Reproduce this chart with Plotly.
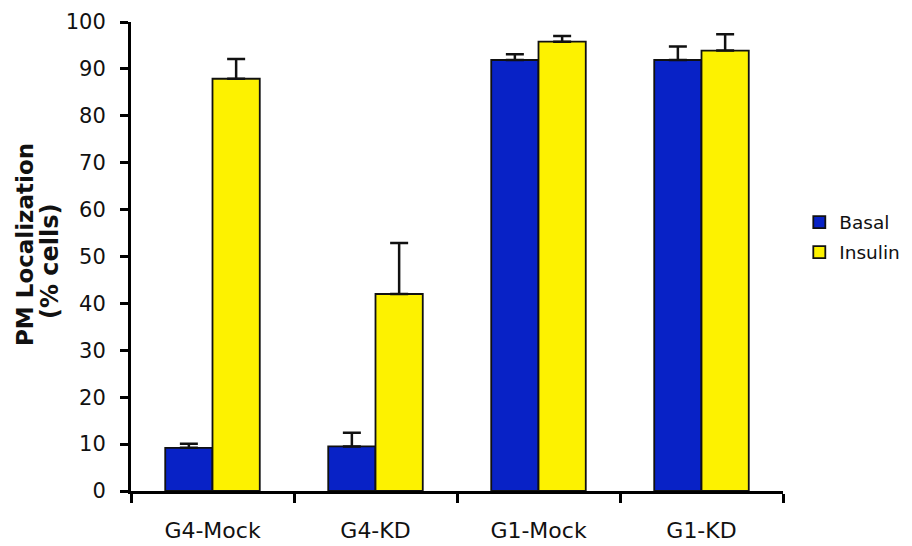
import plotly.graph_objects as go

categories = ["G4-Mock", "G4-KD", "G1-Mock", "G1-KD"]
basal = [9.2, 9.5, 91.9, 91.9]
basal_err = [0.9, 2.9, 1.2, 2.9]
insulin = [87.9, 42.0, 95.8, 93.9]
insulin_err = [4.2, 10.9, 1.2, 3.5]
series_names = ["Basal", "Insulin"]
y_ticks = [0, 10, 20, 30, 40, 50, 60, 70, 80, 90, 100]

BLUE = "#0822C6"
YELLOW = "#FDF200"
FONT = "DejaVu Sans"

fig = go.Figure()
for name, vals, errs, col, grp in [
    (series_names[0], basal, basal_err, BLUE, "a"),
    (series_names[1], insulin, insulin_err, YELLOW, "b"),
]:
    fig.add_trace(go.Bar(
        x=categories, y=vals, name=name, legendgroup=grp,
        marker=dict(color=col, line=dict(color="#111111", width=1.8)),
        error_y=dict(type="data", array=errs, arrayminus=[0] * len(errs),
                     symmetric=False, color="#111111", thickness=2.5, width=9),
    ))

fig.update_layout(
    width=912, height=546,
    margin=dict(l=131, r=129, t=22, b=55, autoexpand=False),
    paper_bgcolor="white", plot_bgcolor="white",
    barmode="group", bargap=0.42, bargroupgap=0,
    font=dict(family=FONT, color="#111111"),
    showlegend=True,
    legend=dict(x=1.025, y=0.5405, xanchor="left", yanchor="middle",
                font=dict(size=18.5, family=FONT, color="#111111"),
                tracegroupgap=3, bgcolor="rgba(0,0,0,0)"),
    xaxis=dict(
        type="category", showline=True, linecolor="black", linewidth=3,
        ticks="outside", tickson="boundaries", ticklen=9, tickwidth=3, tickcolor="black",
        tickfont=dict(size=22, family=FONT, color="#111111"),
        ticklabelstandoff=18, automargin=False,
        showgrid=False, zeroline=False,
    ),
    yaxis=dict(
        range=[0, 100], tickvals=y_ticks, showline=True, linecolor="black", linewidth=3,
        ticks="outside", ticklen=8, tickwidth=3, tickcolor="black",
        tickfont=dict(size=21, family=FONT, color="#111111"),
        ticklabelstandoff=10, automargin=False,
        showgrid=False, zeroline=False,
    ),
)

fig.add_annotation(text="<b>PM Localization</b>", textangle=-90, xref="paper", yref="paper",
                   x=-0.1626, y=0.5266, xanchor="center", yanchor="middle", showarrow=False,
                   font=dict(size=23, family=FONT, color="#111111"))
fig.add_annotation(text="<b>(% cells)</b>", textangle=-90, xref="paper", yref="paper",
                   x=-0.1242, y=0.4904, xanchor="center", yanchor="middle", showarrow=False,
                   font=dict(size=24, family=FONT, color="#111111"))

fig.write_html("out.html")
